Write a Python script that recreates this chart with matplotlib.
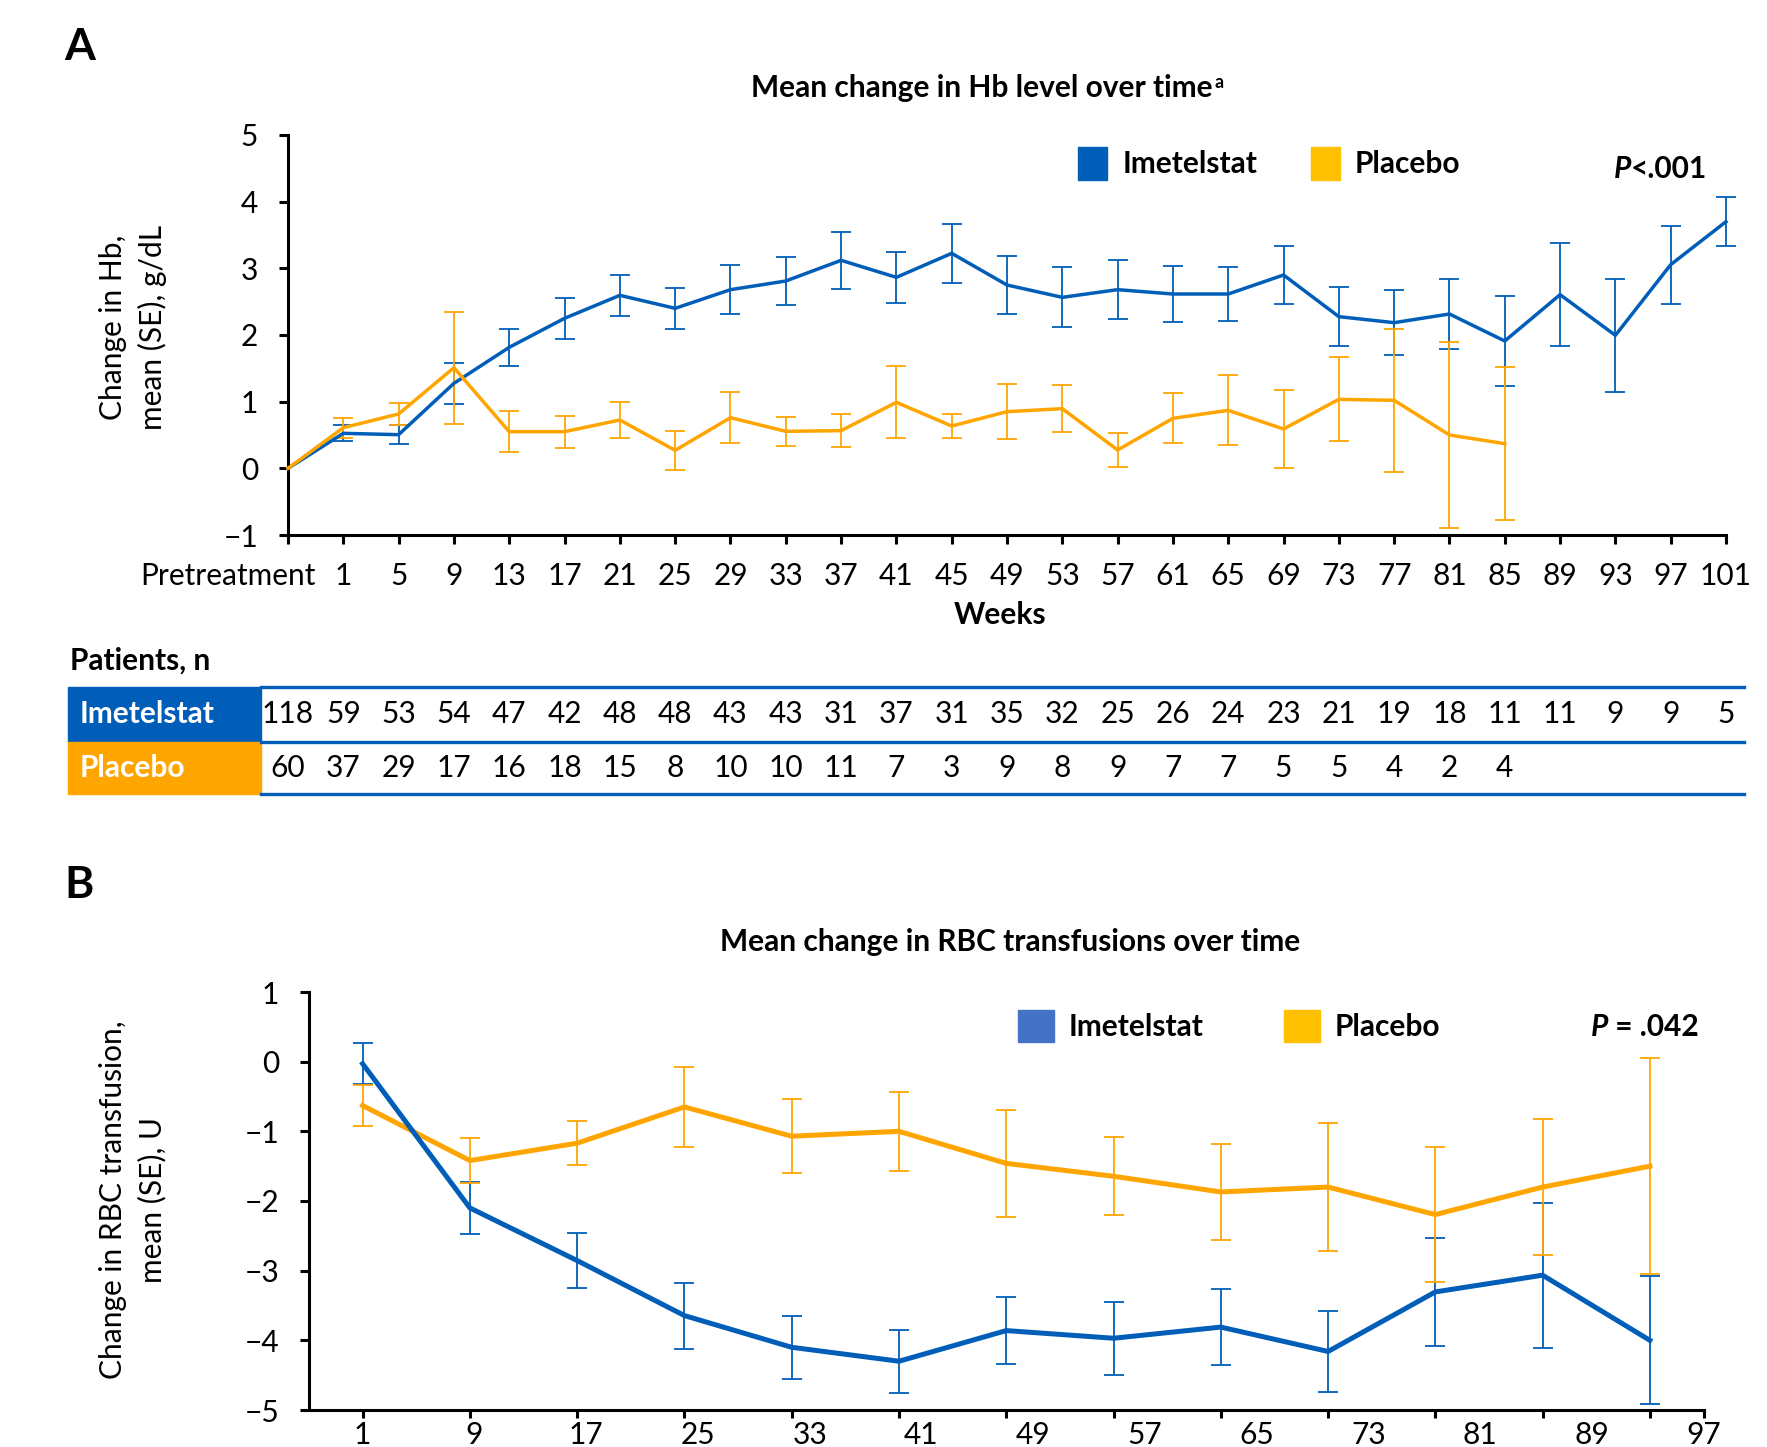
import numpy as np
import matplotlib
matplotlib.use("Agg")
import matplotlib.pyplot as plt
from matplotlib.patches import Patch, Rectangle
from matplotlib.lines import Line2D
from matplotlib import transforms

plt.rcParams["font.family"] = ["Lato", "DejaVu Sans"]

# ---- Panel A: mean change in Hb (g/dL) ----
hb_weeks = ["Pretreatment"] + [str(w) for w in range(1, 102, 4)]
hb_imet_mean = [0, 0.525, 0.505, 1.275, 1.815, 2.25, 2.595, 2.40, 2.68, 2.81,
                3.12, 2.865, 3.225, 2.75, 2.565, 2.68, 2.615, 2.615, 2.90,
                2.275, 2.185, 2.315, 1.91, 2.605, 1.995, 3.055, 3.70]
hb_imet_se = [0, 0.12, 0.14, 0.31, 0.28, 0.31, 0.305, 0.31, 0.37, 0.36,
              0.43, 0.38, 0.44, 0.435, 0.45, 0.445, 0.42, 0.41, 0.44,
              0.44, 0.49, 0.52, 0.67, 0.775, 0.85, 0.585, 0.37]
hb_plac_mean = [0, 0.61, 0.815, 1.51, 0.55, 0.55, 0.725, 0.27, 0.76, 0.555,
                0.565, 0.99, 0.635, 0.85, 0.895, 0.275, 0.75, 0.87, 0.59,
                1.035, 1.02, 0.50, 0.37]
hb_plac_se = [0, 0.15, 0.16, 0.84, 0.305, 0.24, 0.27, 0.29, 0.38, 0.22,
              0.25, 0.54, 0.185, 0.41, 0.35, 0.25, 0.375, 0.525, 0.59,
              0.63, 1.07, 1.40, 1.15]

# patients at risk per visit
n_imet = [118, 59, 53, 54, 47, 42, 48, 48, 43, 43, 31, 37, 31, 35, 32, 25, 26,
          24, 23, 21, 19, 18, 11, 11, 9, 9, 5]
n_plac = [60, 37, 29, 17, 16, 18, 15, 8, 10, 10, 11, 7, 3, 9, 8, 9, 7, 7, 5,
          5, 4, 2, 4]

# ---- Panel B: mean change in RBC transfusions (U) ----
rbc_weeks = [str(w) for w in range(1, 98, 8)]
rbc_imet_mean = [-0.03, -2.10, -2.855, -3.645, -4.10, -4.30, -3.86, -3.97,
                 -3.81, -4.16, -3.305, -3.065, -4.00]
rbc_imet_se = [0.295, 0.375, 0.395, 0.475, 0.455, 0.45, 0.475, 0.525, 0.55,
               0.58, 0.78, 1.04, 0.92]
rbc_plac_mean = [-0.63, -1.42, -1.17, -0.65, -1.07, -1.00, -1.46, -1.645,
                 -1.87, -1.80, -2.195, -1.80, -1.50]
rbc_plac_se = [0.29, 0.32, 0.32, 0.575, 0.53, 0.57, 0.77, 0.56, 0.695,
               0.915, 0.97, 0.97, 1.555]

BLUE = "#005EB8"
ORANGE = "#FFA500"
GOLD = "#FFC000"
LIGHT_BLUE = "#4472C4"
FS = 21.5

W, H = 1767, 1447
fig = plt.figure(figsize=(W / 100, H / 100), dpi=100)


def fx(px):
    return px / W


def fy(py):
    return 1 - py / H


def style_axes(ax):
    for s in ("top", "right"):
        ax.spines[s].set_visible(False)
    for s in ("left", "bottom"):
        ax.spines[s].set_linewidth(2.2)
    ax.tick_params(direction="out", length=6.5, width=2.2, labelsize=FS)
    ax.tick_params(axis="y", pad=15)


# ---------------- panel A ----------------
axA = fig.add_axes([fx(288), fy(535), fx(1726 - 288), (535 - 135) / H])
style_axes(axA)
xa_i = np.arange(len(hb_imet_mean))
xa_p = np.arange(len(hb_plac_mean))
axA.errorbar(xa_i[1:], hb_imet_mean[1:], yerr=hb_imet_se[1:], fmt="none",
             ecolor=BLUE, elinewidth=1.3, capsize=7, capthick=1.3,
             clip_on=False, zorder=2)
axA.errorbar(xa_p[1:], hb_plac_mean[1:], yerr=hb_plac_se[1:], fmt="none",
             ecolor=ORANGE, elinewidth=1.3, capsize=7, capthick=1.3,
             clip_on=False, zorder=2)
axA.plot(xa_i, hb_imet_mean, color=BLUE, lw=2.5, clip_on=False, zorder=3)
axA.plot(xa_p, hb_plac_mean, color=ORANGE, lw=2.5, clip_on=False, zorder=4)
axA.set_xlim(0, len(hb_weeks) - 1)
axA.set_ylim(-1, 5)
axA.set_yticks(range(-1, 6))
axA.set_xticks(range(len(hb_weeks)))
axA.set_xticklabels(hb_weeks)
axA.tick_params(axis="x", pad=13)
# the long first label hangs to the left of its tick
first = axA.get_xticklabels()[0]
first.set_ha("right")
first.set_transform(first.get_transform()
                    + transforms.ScaledTranslation(0.28, 0, fig.dpi_scale_trans))
axA.set_xlabel("Weeks", fontsize=FS, fontweight="bold")
axA.xaxis.set_label_coords((1000 - 288) / (1726 - 288), -0.2)
axA.xaxis.label.set_va("center")

axA.legend(handles=[Patch(color=BLUE, label="Imetelstat"),
                    Patch(color=GOLD, label="Placebo")],
           loc="upper left", bbox_to_anchor=(fx(1078), fy(147)),
           bbox_transform=fig.transFigure, ncol=2, frameon=False,
           prop={"size": FS, "weight": "bold"}, handlelength=0.98,
           handleheight=1.3, handletextpad=0.5, columnspacing=1.8,
           borderpad=0, borderaxespad=0)
fig.text(fx(1631), fy(169), "P", fontsize=FS, fontweight="bold",
         style="italic", ha="right", va="center")
fig.text(fx(1631), fy(169), "<.001", fontsize=FS, fontweight="bold",
         ha="left", va="center")

fig.text(fx(64), fy(47), "A", fontsize=32, fontweight="bold", va="center")
tA = fig.text(fx(982), fy(88), "Mean change in Hb level over time",
              fontsize=FS, fontweight="bold", ha="center", va="center")
fig.text(fx(133), fy(327), "Change in Hb,\nmean (SE), g/dL", fontsize=FS,
         rotation=90, ha="center", va="center", multialignment="center",
         linespacing=1.45)

# ---------------- patients at risk table ----------------
fig.text(fx(70), fy(661), "Patients, n", fontsize=FS, fontweight="bold",
         va="center")
row_top, row_mid, row_bot = 687, 742, 794
fig.patches.append(Rectangle((fx(68), fy(row_mid)), fx(261 - 68),
                             (row_mid - row_top) / H, color=BLUE,
                             transform=fig.transFigure, figure=fig))
fig.patches.append(Rectangle((fx(68), fy(row_bot)), fx(261 - 68),
                             (row_bot - row_mid) / H, color=ORANGE,
                             transform=fig.transFigure, figure=fig))
for yy in (row_top, row_mid, row_bot):
    fig.lines.append(Line2D([fx(261), fx(1744)], [fy(yy), fy(yy)],
                            color=BLUE, lw=2.4, transform=fig.transFigure,
                            figure=fig))
fig.text(fx(80), fy((row_top + row_mid) / 2), "Imetelstat", color="white",
         fontsize=FS, fontweight="bold", va="center")
fig.text(fx(80), fy((row_mid + row_bot) / 2), "Placebo", color="white",
         fontsize=FS, fontweight="bold", va="center")
tbl_tr = transforms.blended_transform_factory(axA.transData, fig.transFigure)
for i, n in enumerate(n_imet):
    fig.text(i, fy((row_top + row_mid) / 2), str(n), transform=tbl_tr,
             fontsize=FS, ha="center", va="center")
for i, n in enumerate(n_plac):
    fig.text(i, fy((row_mid + row_bot) / 2), str(n), transform=tbl_tr,
             fontsize=FS, ha="center", va="center")

# ---------------- panel B ----------------
axB = fig.add_axes([fx(309), fy(1410), fx(1703.5 - 309), (1410 - 992) / H])
style_axes(axB)
xb = np.arange(len(rbc_imet_mean))
axB.errorbar(xb, rbc_imet_mean, yerr=rbc_imet_se, fmt="none", ecolor=BLUE,
             elinewidth=1.3, capsize=7, capthick=1.3, clip_on=False, zorder=2)
axB.errorbar(xb, rbc_plac_mean, yerr=rbc_plac_se, fmt="none", ecolor=ORANGE,
             elinewidth=1.3, capsize=7, capthick=1.3, clip_on=False, zorder=2)
axB.plot(xb, rbc_plac_mean, color=ORANGE, lw=3.6, clip_on=False, zorder=3)
axB.plot(xb, rbc_imet_mean, color=BLUE, lw=3.6, clip_on=False, zorder=4)
axB.set_xlim(-0.5, len(xb) - 0.5)
axB.set_ylim(-5, 1)
axB.set_yticks(range(-5, 2))
# tick marks sit on each visit; the week labels are spread across the axis
axB.xaxis.remove_overlapping_locs = False
axB.set_xticks(list(xb) + [len(xb) - 0.5])
axB.set_xticklabels([])
axB.tick_params(axis="x", which="major", length=5.5)
axB.set_xticks(np.linspace(0, len(xb) - 0.5, len(rbc_weeks)), minor=True)
axB.set_xticklabels(rbc_weeks, minor=True)
axB.tick_params(axis="x", which="minor", length=0, labelsize=FS, pad=8)

axB.legend(handles=[Patch(color=LIGHT_BLUE, label="Imetelstat"),
                    Patch(color=GOLD, label="Placebo")],
           loc="upper left", bbox_to_anchor=(fx(1018), fy(1010)),
           bbox_transform=fig.transFigure, ncol=2, frameon=False,
           prop={"size": FS, "weight": "bold"}, handlelength=1.2,
           handleheight=1.25, handletextpad=0.5, columnspacing=2.7,
           borderpad=0, borderaxespad=0)
fig.text(fx(1608), fy(1027), "P", fontsize=FS, fontweight="bold",
         style="italic", ha="right", va="center")
fig.text(fx(1608), fy(1027), " = .042", fontsize=FS, fontweight="bold",
         ha="left", va="center")

fig.text(fx(64), fy(885), "B", fontsize=32, fontweight="bold", va="center")
fig.text(fx(1010), fy(942), "Mean change in RBC transfusions over time",
         fontsize=FS, fontweight="bold", ha="center", va="center")
fig.text(fx(133), fy(1200), "Change in RBC transfusion,\nmean (SE), U",
         fontsize=FS, rotation=90, ha="center", va="center",
         multialignment="center", linespacing=1.45)

# superscript footnote marker on the panel A title
axA.annotate("a", xy=(1, 0.5), xycoords=tA, xytext=(1, 0),
             textcoords="offset points", fontsize=13, fontweight="bold",
             ha="left", va="baseline")

fig.savefig("out.png", dpi=100)
